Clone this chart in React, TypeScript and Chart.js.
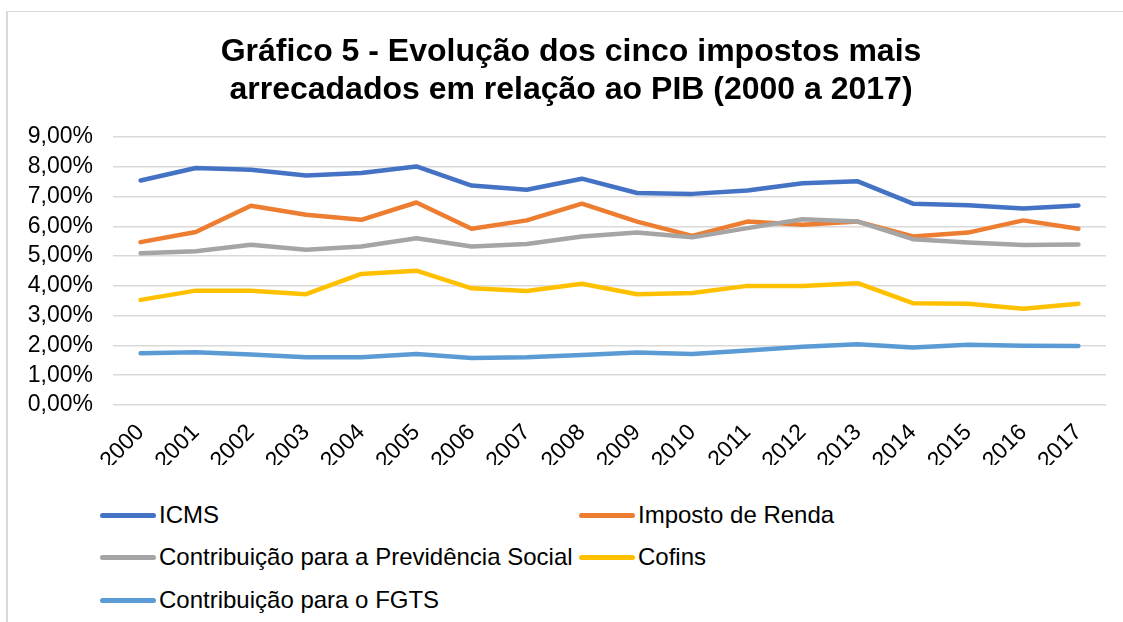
import React, { useEffect, useRef } from "react";
import { Chart, registerables } from "chart.js";

Chart.register(...registerables);

const years = ["2000", "2001", "2002", "2003", "2004", "2005", "2006", "2007", "2008", "2009", "2010", "2011", "2012", "2013", "2014", "2015", "2016", "2017"];

const icms = [7.54, 7.96, 7.9, 7.71, 7.79, 8.01, 7.37, 7.23, 7.6, 7.12, 7.09, 7.2, 7.45, 7.51, 6.76, 6.71, 6.6, 6.7];
const impostoRenda = [5.47, 5.81, 6.69, 6.39, 6.22, 6.8, 5.92, 6.2, 6.76, 6.16, 5.68, 6.16, 6.05, 6.16, 5.66, 5.79, 6.2, 5.92];
const previdencia = [5.1, 5.16, 5.38, 5.21, 5.32, 5.6, 5.32, 5.41, 5.66, 5.79, 5.63, 5.94, 6.24, 6.16, 5.57, 5.46, 5.37, 5.39];
const cofins = [3.53, 3.84, 3.84, 3.72, 4.4, 4.51, 3.92, 3.83, 4.07, 3.72, 3.76, 4.0, 4.0, 4.09, 3.42, 3.4, 3.23, 3.4];
const fgts = [1.74, 1.77, 1.7, 1.6, 1.6, 1.71, 1.58, 1.6, 1.68, 1.76, 1.71, 1.83, 1.96, 2.04, 1.93, 2.02, 1.99, 1.98];

const seriesNames = ["ICMS", "Imposto de Renda", "Contribuição para a Previdência Social", "Cofins", "Contribuição para o FGTS"];
const seriesColors = ["#4472C4", "#ED7D31", "#A5A5A5", "#FFC000", "#5B9BD5"];
const seriesValues = [icms, impostoRenda, previdencia, cofins, fgts];

const titleLines = ["Gráfico 5 - Evolução dos cinco impostos mais", "arrecadados em relação ao PIB (2000 a 2017)"];

const FONT = "'Liberation Sans', Arial, Helvetica, sans-serif";

export default function App() {
  const canvasRef = useRef<HTMLCanvasElement | null>(null);

  useEffect(() => {
    if (!canvasRef.current) return;
    const chart = new Chart(canvasRef.current, {
      type: "line",
      data: {
        labels: years,
        datasets: seriesNames.map((name, i) => ({
          label: name,
          data: seriesValues[i],
          borderColor: seriesColors[i],
          backgroundColor: seriesColors[i],
          borderWidth: 4.5,
          pointRadius: 0,
          pointHoverRadius: 0,
          tension: 0,
          borderCapStyle: "round" as const,
          borderJoinStyle: "round" as const,
          fill: false,
          order: seriesNames.length - i,
        })),
      },
      options: {
        responsive: false,
        animation: false,
        layout: { padding: { left: 26, right: 17, top: 137, bottom: 25 } },
        plugins: {
          legend: { display: false },
          tooltip: { enabled: false },
          title: { display: false },
        },
        scales: {
          x: {
            offset: true,
            grid: { display: false },
            border: { display: false },
            ticks: {
              color: "#000",
              font: { family: FONT, size: 23 },
              minRotation: 45,
              maxRotation: 45,
              autoSkip: false,
              padding: 6,
            },
            afterFit: (scale: any) => {
              scale.height = 60;
            },
          },
          y: {
            min: 0,
            max: 9,
            grid: { color: "#d9d9d9", lineWidth: 1.5, drawTicks: false },
            border: { display: false },
            ticks: {
              stepSize: 1,
              autoSkip: false,
              color: "#000",
              padding: 20,
              font: { family: FONT, size: 23 },
              callback: (v: any) => Number(v).toFixed(2).replace(".", ",") + "%",
            },
            afterFit: (scale: any) => {
              scale.width = 87;
            },
          },
        },
      },
    });
    return () => chart.destroy();
  }, []);

  const legendRows = [
    [0, 1],
    [2, 3],
    [4],
  ];

  return (
    <div style={{ position: "absolute", left: 0, top: 0, width: 1123, height: 622, overflow: "hidden", background: "#fff" }}>
      <div
        style={{
          position: "absolute",
          left: 6,
          top: 11,
          width: 2000,
          height: 2000,
          borderLeft: "2px solid #d9d9d9",
          borderTop: "1px solid #d9d9d9",
        }}
      />
      <canvas ref={canvasRef} width={1123} height={490} style={{ position: "absolute", left: 0, top: 0 }} />
      <div
        style={{
          position: "absolute",
          left: 0,
          top: 31,
          width: 1142,
          textAlign: "center",
          fontFamily: FONT,
          fontWeight: "bold",
          fontSize: 32,
          lineHeight: "38.4px",
          color: "#000",
          whiteSpace: "nowrap",
        }}
      >
        {titleLines.map((t, i) => (
          <div key={i}>{t}</div>
        ))}
      </div>
      {legendRows.map((row, r) =>
        row.map((idx, c) => (
          <div
            key={`${r}-${c}`}
            style={{
              position: "absolute",
              left: c === 0 ? 100 : 579,
              top: [515, 557, 600][r] - 15,
              height: 30,
              display: "flex",
              alignItems: "center",
              fontFamily: FONT,
              fontSize: 24,
              color: "#000",
              whiteSpace: "nowrap",
            }}
          >
            <span
              style={{
                display: "inline-block",
                width: 56,
                height: 5,
                borderRadius: 3,
                background: seriesColors[idx],
                marginRight: 3,
              }}
            />
            <span>{seriesNames[idx]}</span>
          </div>
        ))
      )}
    </div>
  );
}
